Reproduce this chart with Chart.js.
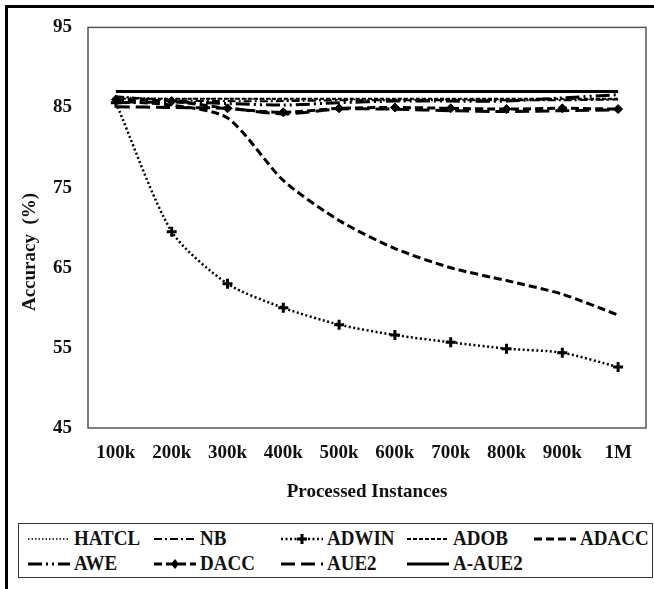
<!DOCTYPE html>
<html>
<head>
<meta charset="utf-8">
<script src="https://cdn.jsdelivr.net/npm/chart.js@4/dist/chart.umd.min.js"></script>
<style>
    body { margin: 0; background: #fff; }
    #wrap { position: relative; width: 654px; height: 589px; overflow: hidden; font-family: "Liberation Serif", "Times New Roman", serif; }
    #frame { position: absolute; left: 5px; top: 5px; width: 660px; height: 600px; border-left: 3px solid #000; border-top: 3px solid #000; }
    #accChart { position: absolute; left: 0; top: 0; }
    #legend { position: absolute; left: 18px; top: 523px; width: 633px; height: 53px; border: 1.5px solid #333; }
    .item { position: absolute; height: 24px; display: flex; align-items: center; font-weight: bold; font-size: 19px; color: #111; white-space: nowrap; }
    .item canvas { margin-right: 3px; }
    .item span { display: inline-block; transform: scaleY(1.15); }
</style>
</head>
<body>
<div id="wrap">
    <div id="frame"></div>
    <canvas id="accChart" width="654" height="510"></canvas>
    <div id="legend"></div>
</div>
<script>
// x categories and accuracy values (%)
const instances = ['100k', '200k', '300k', '400k', '500k', '600k', '700k', '800k', '900k', '1M'];
const hatcl = [86.3, 86.1, 86.1, 86.0, 86.0, 86.0, 86.0, 86.0, 86.0, 86.0];
const nb    = [86.4, 85.9, 85.8, 85.8, 85.9, 85.9, 85.9, 85.9, 85.9, 86.0];
const adwin = [85.6, 69.5, 63.0, 60.0, 57.9, 56.6, 55.7, 54.9, 54.4, 52.6];
const adob  = [86.1, 86.1, 86.1, 86.1, 86.1, 86.1, 86.1, 86.1, 86.1, 86.1];
const adacc = [85.8, 85.3, 83.7, 75.9, 70.9, 67.4, 65.0, 63.4, 61.7, 59.1];
const awe   = [85.6, 85.7, 85.5, 85.3, 85.6, 85.8, 85.8, 85.8, 86.2, 86.6];
const dacc  = [86.0, 85.8, 84.9, 84.4, 84.9, 85.0, 84.9, 84.8, 84.9, 84.8];
const aue2  = [85.1, 85.0, 84.9, 84.2, 84.8, 84.8, 84.6, 84.5, 84.6, 84.7];
const aAue2 = [87.0, 87.0, 87.0, 87.0, 87.0, 87.0, 87.0, 87.0, 87.0, 87.0];
const yTicks = [45, 55, 65, 75, 85, 95];

const serif = '"Liberation Serif", "Times New Roman", serif';

function line(label, data, dash, width, extra) {
    return Object.assign({
        label: label,
        data: data,
        borderColor: '#000',
        backgroundColor: '#000',
        borderWidth: width,
        borderDash: dash,
        pointRadius: 0,
        tension: 0.25,
        fill: false
    }, extra || {});
}

const datasets = [
    line('HATCL', hatcl, [1.5, 2], 1.5),
    line('NB', nb, [8, 3, 2, 3], 2),
    line('ADWIN', adwin, [2, 2.5], 2.5, { pointStyle: 'cross', pointRadius: 5, pointBorderWidth: 3 }),
    line('ADOB', adob, [4, 2], 2),
    line('ADACC', adacc, [8, 4], 3),
    line('AWE', awe, [14, 4, 2, 4, 2, 4], 3),
    line('DACC', dacc, [8, 4], 3, { pointStyle: 'rectRot', pointRadius: 4.5, pointBorderWidth: 1 }),
    line('AUE2', aue2, [14, 6], 3),
    line('A-AUE2', aAue2, [], 3)
];

// box round the plot area plus the rotated y title
const extras = {
    id: 'extras',
    afterDraw(chart) {
        const c = chart.ctx;
        const a = chart.chartArea;
        c.save();
        c.strokeStyle = '#555';
        c.lineWidth = 1.5;
        c.strokeRect(a.left, a.top, a.right - a.left, a.bottom - a.top);
        c.translate(30, 252);
        c.rotate(-Math.PI / 2);
        c.fillStyle = '#111';
        c.font = 'bold 19px ' + serif;
        c.textAlign = 'center';
        c.textBaseline = 'middle';
        c.fillText('Accuracy  (%)', 0, 0);
        c.restore();
    }
};

const ctx = document.getElementById('accChart').getContext('2d');
const chart = new Chart(ctx, {
    type: 'line',
    data: { labels: instances, datasets: datasets },
    options: {
        responsive: false,
        animation: false,
        layout: { padding: { left: 0, right: 4, top: 20, bottom: 0 } },
        plugins: { legend: { display: false }, tooltip: { enabled: false } },
        scales: {
            x: {
                offset: true,
                grid: { display: false, drawTicks: false },
                border: { display: false },
                ticks: { color: '#111', padding: 14, font: { family: serif, size: 19, weight: 'bold' } },
                title: { display: true, text: 'Processed Instances', color: '#111', padding: { bottom: 7 }, font: { family: serif, size: 19, weight: 'bold' } },
                afterFit: s => { s.height = 82; }
            },
            y: {
                min: 45,
                max: 95,
                afterBuildTicks: s => { s.ticks = yTicks.map(v => ({ value: v })); },
                grid: { display: false, drawTicks: false },
                border: { display: false },
                ticks: { color: '#111', padding: 16, font: { family: serif, size: 19, weight: 'bold' } },
                afterFit: s => { s.width = 88; }
            }
        }
    },
    plugins: [extras]
});

// legend laid out in a grid like the original
const cols = [8, 134, 261, 387, 514];
const legend = document.getElementById('legend');
datasets.forEach((d, i) => {
    const row = i < 5 ? 0 : 1;
    const col = i < 5 ? i : i - 5;
    const item = document.createElement('div');
    item.className = 'item';
    item.style.left = cols[col] + 'px';
    item.style.top = (row === 0 ? 2 : 27) + 'px';
    const s = document.createElement('canvas');
    s.width = 44;
    s.height = 20;
    const g = s.getContext('2d');
    g.strokeStyle = '#000';
    g.fillStyle = '#000';
    g.lineWidth = d.borderWidth;
    g.setLineDash(d.borderDash);
    g.beginPath();
    g.moveTo(1, 11);
    g.lineTo(43, 11);
    g.stroke();
    g.setLineDash([]);
    if (d.pointStyle === 'cross') {
        g.lineWidth = 3;
        g.beginPath();
        g.moveTo(22, 6); g.lineTo(22, 16);
        g.moveTo(17, 11); g.lineTo(27, 11);
        g.stroke();
    } else if (d.pointStyle === 'rectRot') {
        g.beginPath();
        g.moveTo(22, 6); g.lineTo(26, 11); g.lineTo(22, 16); g.lineTo(18, 11);
        g.closePath();
        g.fill();
    }
    item.appendChild(s);
    const t = document.createElement('span');
    t.textContent = d.label;
    item.appendChild(t);
    legend.appendChild(item);
});
</script>
</body>
</html>
